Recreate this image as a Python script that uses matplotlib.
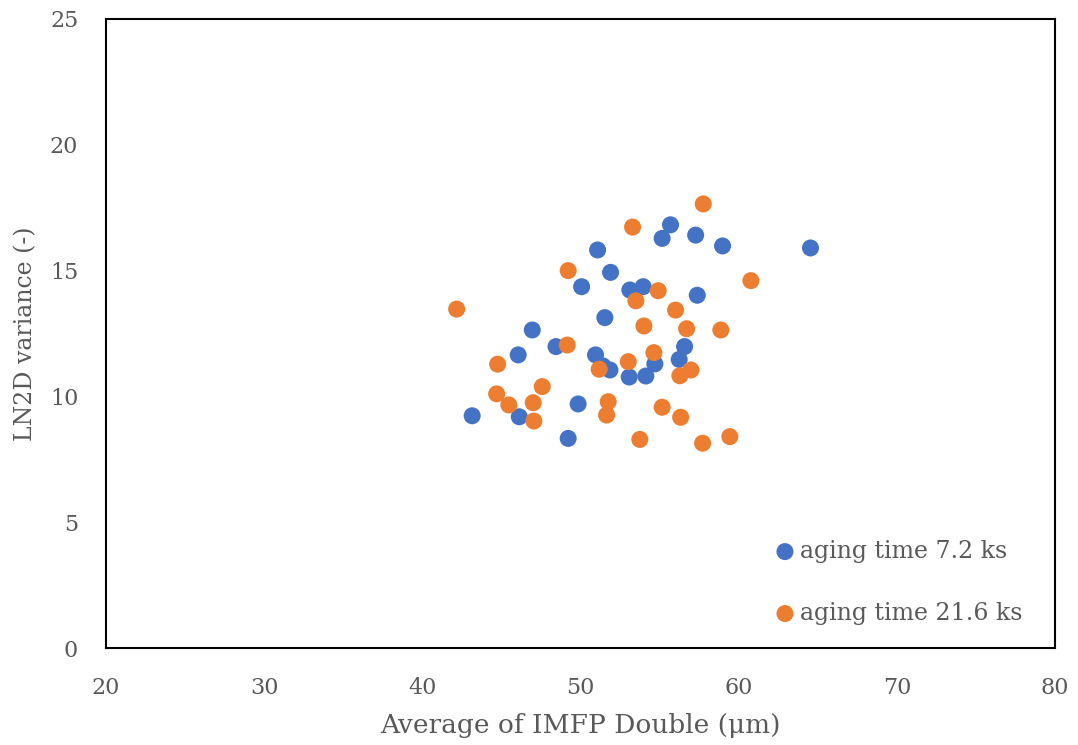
import matplotlib
matplotlib.use("Agg")
import matplotlib.pyplot as plt

# Aging time 7.2 ks
imfp_72 = [43.15, 46.13, 46.06, 46.95, 48.45, 49.22, 49.85, 50.07, 51.08, 50.95,
           51.54, 51.42, 51.90, 51.86, 53.12, 53.96, 53.08, 54.13, 54.70, 55.16,
           55.69, 56.24, 56.58, 57.28, 57.38, 58.98, 64.54]
var_72 = [9.23, 9.19, 11.65, 12.64, 11.98, 8.33, 9.70, 14.36, 15.82, 11.65,
          13.13, 11.21, 14.93, 11.05, 14.23, 14.36, 10.77, 10.81, 11.29, 16.28,
          16.82, 11.47, 11.98, 16.41, 14.02, 15.98, 15.90]

# Aging time 21.6 ks
imfp_216 = [42.17, 44.76, 44.70, 45.47, 47.01, 47.05, 47.58, 49.16, 49.22, 51.18,
            51.75, 51.65, 53.02, 53.29, 53.50, 53.75, 54.01, 54.64, 54.91, 55.16,
            56.01, 56.28, 56.33, 56.71, 56.98, 57.76, 57.72, 58.87, 59.44, 60.77]
var_216 = [13.47, 11.28, 10.10, 9.66, 9.75, 9.02, 10.39, 12.04, 15.00, 11.08,
           9.79, 9.26, 11.38, 16.73, 13.80, 8.29, 12.80, 11.74, 14.20, 9.57,
           13.43, 10.82, 9.17, 12.69, 11.05, 17.65, 8.14, 12.64, 8.40, 14.60]

series_labels = ["aging time 7.2 ks", "aging time 21.6 ks"]
x_ticks = [20, 30, 40, 50, 60, 70, 80]
y_ticks = [0, 5, 10, 15, 20, 25]

text_color = "#595959"
serif = ["DejaVu Serif"]

fig = plt.figure(figsize=(10.78, 7.45), dpi=100)
ax = fig.add_axes([0.0983, 0.1302, 0.8804, 0.8443])

ax.scatter(imfp_72, var_72, s=150, color="#4472C4", edgecolors="none",
           label=series_labels[0], zorder=3)
ax.scatter(imfp_216, var_216, s=150, color="#ED7D31", edgecolors="none",
           label=series_labels[1], zorder=3)

ax.set_xlim(x_ticks[0], x_ticks[-1])
ax.set_ylim(y_ticks[0], y_ticks[-1])
ax.set_xticks(x_ticks)
ax.set_yticks(y_ticks)
ax.tick_params(length=0, labelsize=16, labelcolor=text_color, pad=20)
ax.tick_params(axis="x", pad=21)
for lab in ax.get_xticklabels() + ax.get_yticklabels():
    lab.set_family(serif)

for sp in ax.spines.values():
    sp.set_color("black")
    sp.set_linewidth(1.5)

ax.set_xlabel("Average of IMFP Double (μm)", fontsize=19, color=text_color,
              family=serif, labelpad=10)
ax.set_ylabel("LN2D variance (-)", fontsize=17, color=text_color,
              family=serif, labelpad=9)

leg = ax.legend(loc="center left", bbox_to_anchor=(0.703, 0.1045), frameon=False,
                fontsize=17, handletextpad=0.15, labelspacing=1.65,
                handlelength=1.0, markerscale=1.0, borderaxespad=0, borderpad=0)
for t in leg.get_texts():
    t.set_color(text_color)
    t.set_family(serif)

fig.savefig("out.png", dpi=100)
